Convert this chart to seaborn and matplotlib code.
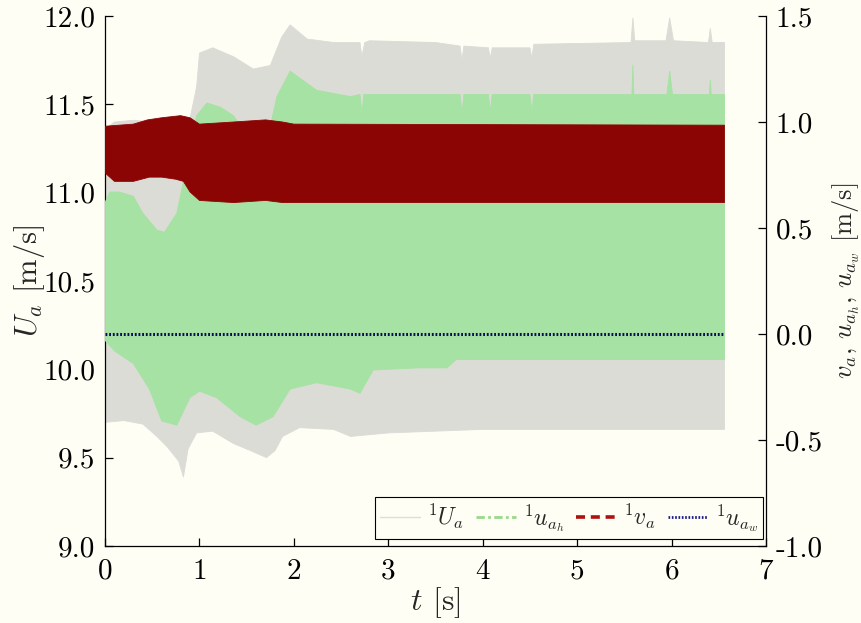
import numpy as np
import pandas as pd
import matplotlib
matplotlib.use("Agg")
import matplotlib.pyplot as plt
from matplotlib.lines import Line2D
from matplotlib.ticker import FixedLocator, FixedFormatter
import seaborn as sns

# ---- envelopes of the oscillating signals ----
# total wind speed U_a (left axis)
t_U_hi = [0.0, 0.1, 0.3, 0.5, 0.7, 0.9, 0.97, 1.0, 1.14, 1.36, 1.57, 1.75, 1.87, 1.96, 2.14, 2.42,
          2.70, 2.72, 2.75, 2.80, 3.50, 3.76, 3.78, 3.80, 4.06, 4.08, 4.10, 4.50, 4.52, 4.54,
          5.57, 5.59, 5.61, 5.94, 5.98, 6.02, 6.39, 6.41, 6.43, 6.56]
U_hi = [11.36, 11.40, 11.41, 11.40, 11.40, 11.42, 11.60, 11.79, 11.82, 11.77, 11.70, 11.72, 11.88, 11.95, 11.87, 11.85,
        11.85, 11.77, 11.85, 11.86, 11.85, 11.83, 11.75, 11.83, 11.82, 11.76, 11.82, 11.82, 11.76, 11.84,
        11.85, 11.99, 11.86, 11.86, 11.99, 11.86, 11.85, 11.93, 11.85, 11.85]
t_U_lo = [0.0, 0.2, 0.4, 0.55, 0.66, 0.78, 0.83, 0.88, 0.97, 1.14, 1.36, 1.54, 1.71, 1.80, 1.88, 2.06,
          2.42, 2.60, 2.80, 3.00, 3.50, 4.00, 5.00, 6.00, 6.56]
U_lo = [9.70, 9.71, 9.69, 9.62, 9.56, 9.48, 9.39, 9.55, 9.64, 9.65, 9.58, 9.54, 9.50, 9.54, 9.62, 9.67,
        9.66, 9.62, 9.63, 9.64, 9.65, 9.66, 9.66, 9.66, 9.66]

# horizontal component u_ah (right axis)
t_uh_hi = [0.0, 0.05, 0.15, 0.30, 0.40, 0.55, 0.63, 0.76, 0.83, 0.90, 0.97, 1.08, 1.22, 1.36, 1.45,
           1.60, 1.75, 1.82, 1.96, 2.24, 2.60, 2.70, 2.72, 2.74, 3.76, 3.78, 3.80, 4.06, 4.08, 4.10,
           4.50, 4.52, 4.54, 5.58, 5.59, 5.60, 5.95, 5.98, 6.01, 6.40, 6.41, 6.42, 6.56]
uh_hi = [0.62, 0.67, 0.67, 0.65, 0.57, 0.49, 0.48, 0.57, 0.72, 0.90, 1.03, 1.09, 1.07, 1.03, 0.97,
         0.95, 0.98, 1.12, 1.24, 1.15, 1.12, 1.13, 1.04, 1.13, 1.13, 1.04, 1.13, 1.13, 1.05, 1.13,
         1.13, 1.05, 1.13, 1.13, 1.27, 1.13, 1.13, 1.24, 1.13, 1.13, 1.20, 1.13, 1.13]
t_uh_lo = [0.0, 0.10, 0.30, 0.47, 0.60, 0.76, 0.90, 1.00, 1.18, 1.43, 1.60, 1.78, 1.96, 2.24, 2.60,
           2.70, 2.84, 3.30, 3.62, 3.72, 4.50, 5.50, 6.56]
uh_lo = [-0.03, -0.08, -0.14, -0.26, -0.41, -0.43, -0.30, -0.27, -0.30, -0.39, -0.43, -0.39, -0.26, -0.23, -0.26,
         -0.28, -0.17, -0.16, -0.16, -0.12, -0.12, -0.12, -0.12]

# lateral component v_a (right axis)
t_v_hi = [0.0, 0.3, 0.45, 0.6, 0.8, 0.9, 1.0, 1.36, 1.7, 1.88, 2.0, 6.56]
v_hi = [0.98, 0.99, 1.01, 1.02, 1.03, 1.02, 0.99, 1.00, 1.01, 1.00, 0.99, 0.985]
t_v_lo = [0.0, 0.1, 0.3, 0.47, 0.6, 0.75, 0.83, 0.9, 0.95, 1.0, 1.36, 1.7, 1.88, 6.56]
v_lo = [0.76, 0.72, 0.72, 0.74, 0.74, 0.73, 0.72, 0.67, 0.65, 0.63, 0.62, 0.63, 0.62, 0.62]

# vertical component u_aw (right axis)
t_uw = [0.0, 6.56]
uw = [0.0, 0.0]

# tick labels
x_ticks = [0, 1, 2, 3, 4, 5, 6, 7]
left_ticks = [9.0, 9.5, 10.0, 10.5, 11.0, 11.5, 12.0]
right_ticks = [-1.0, -0.5, 0.0, 0.5, 1.0, 1.5]

# ---- style ----
bg = "#fffef4"
c_U = "#dcdcd6"
c_uh = "#a6e2a4"
c_v = "#8c0505"
c_uw = "#0a0a5a"

sns.set_theme(style="ticks")
plt.rcParams["font.family"] = ["cmr10", "DejaVu Serif"]
plt.rcParams["mathtext.fontset"] = "cm"
plt.rcParams["axes.unicode_minus"] = False
plt.rcParams["axes.formatter.use_mathtext"] = True

fig = plt.figure(figsize=(8.61, 6.23), dpi=100, facecolor=bg)
ax = fig.add_axes([0.122, 0.1236, 0.7677, 0.8507])
ax.set_facecolor(bg)
ax2 = ax.twinx()


def band(axis, t_hi, y_hi, t_lo, y_lo, color, z):
    """Fill the region between an upper and a lower envelope."""
    xs = np.concatenate([t_hi, t_lo[::-1]])
    ys = np.concatenate([y_hi, y_lo[::-1]])
    axis.fill(xs, ys, color=color, lw=0.6, ec=color, zorder=z)


band(ax, t_U_hi, U_hi, t_U_lo, U_lo, c_U, 1)
band(ax2, t_uh_hi, uh_hi, t_uh_lo, uh_lo, c_uh, 1)
band(ax2, t_v_hi, v_hi, t_v_lo, v_lo, c_v, 2)

uw_df = pd.DataFrame({"t": t_uw, "u": uw})
sns.lineplot(data=uw_df, x="t", y="u", ax=ax2, color=c_uw, lw=2.2,
             linestyle=(0, (0.6, 0.6)), zorder=3, legend=False)

# ---- axes ----
ax.set_xlim(0, 7)
ax.set_ylim(9.0, 12.0)
ax2.set_ylim(-1.0, 1.5)

ax.xaxis.set_major_locator(FixedLocator(x_ticks))
ax.xaxis.set_major_formatter(FixedFormatter([str(v) for v in x_ticks]))
ax.yaxis.set_major_locator(FixedLocator(left_ticks))
ax.yaxis.set_major_formatter(FixedFormatter([f"{v:.1f}" for v in left_ticks]))
ax2.yaxis.set_major_locator(FixedLocator(right_ticks))
ax2.yaxis.set_major_formatter(FixedFormatter([f"{v:.1f}" for v in right_ticks]))

for a in (ax, ax2):
    a.spines["top"].set_visible(False)
    for s in a.spines.values():
        s.set_color("black")
        s.set_linewidth(0.9)
    a.tick_params(direction="in", length=6, width=0.9, labelsize=21, colors="black", pad=7)
    a.grid(False)
ax.spines["right"].set_visible(False)
ax2.spines["left"].set_visible(False)
ax2.spines["bottom"].set_visible(False)
ax.tick_params(axis="x", pad=9)

ax.set_xlabel(r"$t$ [s]", fontsize=23, labelpad=0)
ax.set_ylabel(r"$U_a$ [m/s]", fontsize=22)
ax.yaxis.set_label_coords(-0.088, 0.5)
ax2.set_ylabel(r"$v_a$, $u_{a_h}$, $u_{a_w}$ [m/s]", fontsize=19)
ax2.yaxis.set_label_coords(1.097, 0.5)

handles = [
    Line2D([], [], color="#d8e2cc", lw=1.0, linestyle="-"),
    Line2D([], [], color="#9bd88c", lw=2.0, linestyle=(0, (3, 1.2, 1, 1.2))),
    Line2D([], [], color="#b01010", lw=2.6, linestyle=(0, (2.5, 1.6))),
    Line2D([], [], color="#1a1a8a", lw=2.0, linestyle=(0, (0.6, 0.6))),
]
labels = [r"${}^{1}U_a$", r"${}^{1}u_{a_h}$", r"${}^{1}v_a$", r"${}^{1}u_{a_w}$"]
leg = ax2.legend(handles, labels, loc="lower right", bbox_to_anchor=(0.995, 0.014), ncol=4,
                 fontsize=17, frameon=True, fancybox=False, edgecolor="black", facecolor=bg,
                 framealpha=1, handlelength=1.7, handletextpad=0.3, columnspacing=0.5,
                 borderpad=0.2, borderaxespad=0.0)
leg.get_frame().set_linewidth(0.8)
leg.set_zorder(10)

fig.savefig("out.png", dpi=100, facecolor=bg)
